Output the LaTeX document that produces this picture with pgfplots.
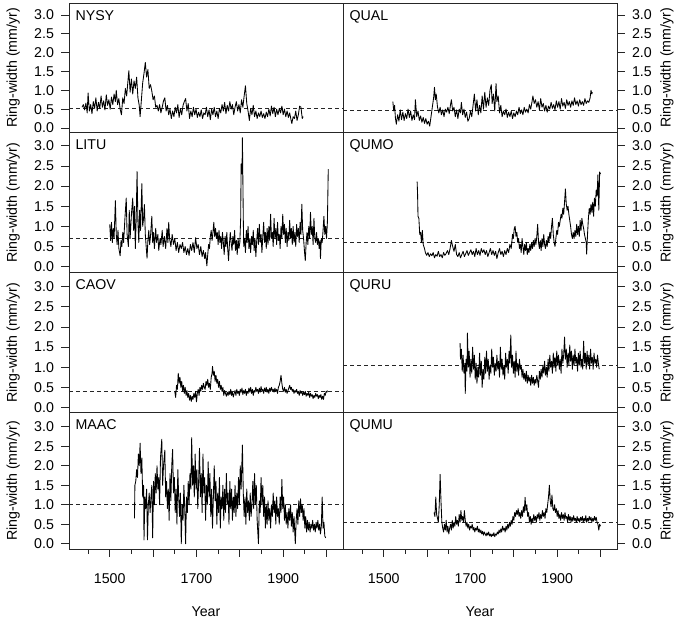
\documentclass[border=0pt]{standalone}
\usepackage{pgfplots}
\pgfplotsset{compat=1.18}
\usepackage{fontspec}
\setmainfont{Liberation Sans}
\newcommand\fs{\fontsize{14.2}{16}\selectfont}
\pgfplotsset{
  panel/.style={
    scale only axis, width=274pt,
    xmin=1406, xmax=2038,
    axis line style={black!85, line width=0.8pt},
    every tick/.style={black!85, line width=0.8pt},
    tick align=outside,
    major tick length=7.5pt, minor tick length=4.5pt,
    ytick={0,0.5,1,1.5,2,2.5,3},
    yticklabels={0.0,0.5,1.0,1.5,2.0,2.5,3.0},
    tick label style={font=\fs},
    ylabel={Ring-width (mm/yr)},
    xtick=\empty,
    anchor=north west,
  },
  leftp/.style={ytick pos=left, yticklabel pos=left,
    yticklabel style={xshift=-4pt},
    every axis y label/.style={at={(axis description cs:-0.204,0.5)}, rotate=90, anchor=center, font=\fs}},
  rightp/.style={ytick pos=right, yticklabel pos=right,
    yticklabel style={xshift=4pt},
    every axis y label/.style={at={(axis description cs:1.1825,0.5)}, rotate=90, anchor=center, font=\fs}},
  bottomp/.style={xtick={1500,1600,1700,1800,1900,2000}, xticklabels={1500,,1700,,1900,},
    minor xtick={1450,1550,1650,1750,1850,1950}, xtick pos=bottom,
    xticklabel style={yshift=-13pt}, xlabel={Year},
    every axis x label/.style={at={(axis description cs:0.5,-0.455)}, anchor=center, font=\fs}},
  row1/.style={height=129.2pt, ymin=-0.12, ymax=3.31},
  row2/.style={height=140.2pt, ymin=-0.15, ymax=3.33},
  row3/.style={height=140pt, ymin=-0.13, ymax=3.35},
  row4/.style={height=136.5pt, ymin=-0.14, ymax=3.36},
  ser/.style={black, line width=0.85pt, line join=round},
  mean/.style={black!85, line width=0.8pt, dash pattern=on 4pt off 3pt},
}
\newcommand\plab[1]{\node[anchor=base west, font=\fs, xshift=3pt, yshift=-17pt] at (rel axis cs:0,1) {#1};}
\begin{document}
\begin{tikzpicture}
\path[use as bounding box] (0,0) rectangle (680pt,620pt);
% ---------------- Row 1 ----------------
\begin{axis}[panel, leftp, row1, at={(69pt,616.7pt)}]
\addplot[mean] coordinates {(1406,0.53) (2038,0.53)};
\addplot[ser] coordinates {(1436,0.55)(1439,0.62)(1442,0.48)(1445,0.66)(1448,0.40)(1450,0.93)(1453,0.45)(1456,0.62)(1459,0.38)(1462,0.70)(1465,0.52)(1468,0.80)(1471,0.45)(1474,0.68)(1477,0.52)(1480,0.85)(1483,0.55)(1486,0.72)(1489,0.48)(1492,0.88)(1495,0.60)(1498,0.75)(1501,0.50)(1504,0.82)(1507,0.62)(1510,0.90)(1513,0.70)(1515,1.00)(1518,0.62)(1521,0.78)(1524,0.50)(1527,0.35)(1530,0.80)(1533,0.65)(1536,1.05)(1539,0.85)(1542,1.25)(1544,1.52)(1547,0.95)(1550,1.30)(1553,0.90)(1556,1.25)(1559,1.05)(1562,1.35)(1565,0.80)(1568,0.60)(1570,0.30)(1573,0.75)(1576,1.20)(1579,1.45)(1582,1.74)(1585,1.35)(1588,1.55)(1591,1.05)(1594,1.15)(1597,0.98)(1600,0.75)(1603,0.85)(1606,0.55)(1609,0.60)(1612,0.45)(1615,0.62)(1618,0.40)(1621,0.55)(1624,0.72)(1627,0.80)(1630,0.45)(1633,0.60)(1636,0.35)(1639,0.50)(1642,0.25)(1645,0.45)(1648,0.30)(1651,0.55)(1654,0.40)(1657,0.62)(1660,0.28)(1663,0.52)(1666,0.35)(1669,0.60)(1672,0.70)(1675,0.78)(1678,0.45)(1681,0.65)(1684,0.25)(1687,0.45)(1690,0.30)(1693,0.55)(1696,0.35)(1699,0.50)(1702,0.28)(1705,0.42)(1708,0.30)(1711,0.48)(1714,0.25)(1717,0.40)(1720,0.35)(1723,0.55)(1726,0.30)(1729,0.48)(1732,0.22)(1735,0.50)(1738,0.35)(1741,0.55)(1744,0.30)(1747,0.45)(1750,0.25)(1753,0.52)(1756,0.40)(1759,0.62)(1762,0.45)(1765,0.68)(1768,0.38)(1771,0.60)(1774,0.45)(1777,0.70)(1780,0.50)(1783,0.62)(1786,0.35)(1789,0.55)(1792,0.70)(1795,0.45)(1798,0.62)(1801,0.40)(1804,0.75)(1807,0.55)(1810,0.85)(1813,1.12)(1816,0.65)(1819,0.45)(1822,0.20)(1825,0.52)(1828,0.35)(1831,0.60)(1834,0.30)(1837,0.45)(1840,0.25)(1843,0.40)(1846,0.30)(1849,0.45)(1852,0.28)(1855,0.38)(1858,0.25)(1861,0.42)(1864,0.30)(1867,0.50)(1870,0.32)(1873,0.58)(1876,0.38)(1879,0.55)(1882,0.30)(1885,0.50)(1888,0.35)(1891,0.52)(1894,0.40)(1897,0.58)(1900,0.35)(1903,0.50)(1906,0.30)(1909,0.45)(1912,0.28)(1915,0.40)(1918,0.22)(1920,0.12)(1923,0.30)(1926,0.25)(1929,0.45)(1932,0.20)(1935,0.35)(1938,0.58)(1941,0.55)(1944,0.25)(1946,0.30)};
\plab{NYSY}
\end{axis}
\begin{axis}[panel, rightp, row1, at={(343pt,616.7pt)}]
\addplot[mean] coordinates {(1406,0.47) (2038,0.47)};
\addplot[ser] coordinates {(1521,0.70)(1523,0.45)(1525,0.60)(1527,0.25)(1529,0.10)(1532,0.35)(1535,0.18)(1538,0.48)(1541,0.22)(1544,0.42)(1547,0.20)(1550,0.38)(1553,0.25)(1556,0.50)(1559,0.28)(1562,0.45)(1565,0.20)(1568,0.35)(1571,0.22)(1573,0.75)(1576,0.30)(1579,0.45)(1582,0.20)(1585,0.32)(1588,0.15)(1591,0.28)(1594,0.12)(1597,0.25)(1600,0.10)(1603,0.18)(1606,0.05)(1609,0.30)(1612,0.55)(1615,0.80)(1617,1.08)(1619,0.75)(1621,0.90)(1624,0.55)(1627,0.40)(1630,0.55)(1633,0.35)(1636,0.48)(1639,0.30)(1642,0.50)(1645,0.42)(1648,0.55)(1651,0.38)(1654,0.62)(1656,0.75)(1659,0.45)(1662,0.55)(1665,0.30)(1668,0.48)(1671,0.25)(1674,0.50)(1677,0.40)(1679,0.68)(1682,0.35)(1685,0.50)(1688,0.28)(1691,0.42)(1694,0.18)(1697,0.25)(1700,0.45)(1703,0.30)(1706,0.60)(1709,0.90)(1712,0.45)(1715,0.75)(1718,0.35)(1721,0.60)(1724,0.40)(1727,0.85)(1730,0.50)(1733,0.95)(1736,0.55)(1739,0.80)(1742,0.60)(1745,1.00)(1748,1.15)(1750,0.65)(1753,0.90)(1756,0.45)(1759,1.18)(1761,0.70)(1764,0.85)(1767,0.40)(1770,0.60)(1773,0.30)(1776,0.45)(1779,0.35)(1782,0.50)(1785,0.28)(1788,0.42)(1791,0.30)(1794,0.45)(1797,0.25)(1800,0.40)(1803,0.30)(1806,0.45)(1809,0.35)(1812,0.55)(1815,0.38)(1818,0.48)(1821,0.35)(1824,0.55)(1827,0.42)(1830,0.50)(1833,0.40)(1836,0.62)(1839,0.50)(1842,0.70)(1844,0.85)(1847,0.65)(1850,0.75)(1853,0.55)(1856,0.70)(1859,0.48)(1862,0.78)(1865,0.55)(1868,0.65)(1871,0.45)(1874,0.60)(1877,0.42)(1880,0.58)(1883,0.50)(1886,0.68)(1889,0.52)(1892,0.62)(1895,0.48)(1898,0.72)(1901,0.55)(1904,0.70)(1907,0.50)(1910,0.78)(1913,0.58)(1916,0.68)(1919,0.52)(1922,0.75)(1925,0.60)(1928,0.70)(1931,0.55)(1934,0.72)(1937,0.60)(1940,0.80)(1943,0.62)(1946,0.72)(1949,0.58)(1952,0.75)(1955,0.62)(1958,0.70)(1961,0.60)(1964,0.78)(1967,0.65)(1970,0.72)(1973,0.68)(1976,0.80)(1978,1.00)(1980,0.90)(1981,0.95)};
\plab{QUAL}
\end{axis}
% ---------------- Row 2 ----------------
\begin{axis}[panel, leftp, row2, at={(69pt,487.5pt)}]
\addplot[mean] coordinates {(1406,0.70) (2038,0.70)};
\addplot[ser] coordinates {(1500,1.05)(1502,0.65)(1504,1.10)(1506,0.60)(1508,0.95)(1510,0.70)(1513,1.64)(1515,0.80)(1517,0.55)(1519,0.90)(1521,0.45)(1524,0.27)(1526,0.65)(1528,0.50)(1530,0.85)(1532,0.60)(1535,1.20)(1538,1.70)(1540,0.80)(1543,0.50)(1545,1.40)(1547,0.70)(1550,1.30)(1553,1.70)(1555,0.90)(1557,1.50)(1559,0.45)(1561,1.20)(1563,2.36)(1565,1.10)(1567,0.60)(1569,1.40)(1571,0.90)(1574,2.06)(1576,1.00)(1578,1.20)(1580,1.54)(1582,0.80)(1584,0.50)(1586,0.21)(1588,0.65)(1590,0.90)(1592,0.55)(1594,0.75)(1597,1.25)(1599,0.60)(1601,0.85)(1603,0.45)(1606,0.95)(1608,0.60)(1611,0.80)(1613,0.40)(1616,0.70)(1618,0.55)(1621,0.90)(1623,0.50)(1626,0.75)(1629,0.45)(1632,0.95)(1634,0.60)(1636,1.10)(1638,0.70)(1641,0.50)(1644,0.80)(1647,0.55)(1650,0.70)(1653,0.40)(1656,0.60)(1659,0.35)(1662,0.55)(1665,0.45)(1668,0.60)(1671,0.35)(1674,0.50)(1677,0.30)(1680,0.45)(1683,0.28)(1686,0.55)(1689,0.40)(1692,0.60)(1695,0.35)(1698,0.72)(1701,0.45)(1704,0.55)(1707,0.30)(1710,0.50)(1713,0.25)(1716,0.40)(1719,0.20)(1721,0.35)(1724,0.02)(1726,0.30)(1728,0.55)(1730,0.45)(1732,0.75)(1734,0.90)(1736,0.65)(1738,0.85)(1740,1.10)(1742,0.75)(1744,0.95)(1746,0.70)(1748,0.85)(1750,0.55)(1752,0.90)(1754,0.60)(1756,0.75)(1758,0.45)(1760,0.85)(1762,0.60)(1764,0.30)(1766,0.75)(1768,0.50)(1770,0.85)(1772,0.45)(1774,0.15)(1776,0.55)(1778,0.85)(1780,0.60)(1782,0.40)(1784,0.75)(1786,0.55)(1788,0.90)(1790,0.40)(1792,0.65)(1794,0.30)(1796,0.70)(1798,0.45)(1800,0.60)(1802,1.20)(1803,2.55)(1805,2.30)(1806,3.20)(1808,1.20)(1809,0.50)(1811,0.70)(1813,0.35)(1815,0.90)(1817,0.60)(1819,1.00)(1821,0.45)(1823,0.70)(1825,0.35)(1827,0.75)(1829,0.55)(1831,0.90)(1833,0.40)(1835,0.70)(1837,0.25)(1839,0.65)(1841,0.95)(1843,0.55)(1845,1.05)(1847,0.60)(1849,0.80)(1851,0.35)(1853,0.75)(1855,1.10)(1857,0.60)(1859,0.85)(1861,0.45)(1863,0.95)(1865,0.55)(1867,1.00)(1869,0.65)(1871,1.30)(1873,0.70)(1875,0.85)(1877,0.50)(1879,1.20)(1881,0.70)(1883,0.95)(1885,0.55)(1887,1.10)(1889,0.65)(1891,0.80)(1893,0.45)(1895,1.00)(1897,0.70)(1899,1.30)(1901,0.80)(1903,1.05)(1905,0.60)(1907,0.95)(1909,0.50)(1911,0.85)(1913,0.65)(1915,1.15)(1917,0.70)(1919,0.95)(1921,0.55)(1923,1.00)(1925,0.60)(1927,0.85)(1929,0.50)(1931,1.05)(1933,0.75)(1935,0.95)(1937,0.60)(1939,1.10)(1941,0.80)(1943,1.55)(1945,0.90)(1947,0.70)(1949,0.40)(1951,0.15)(1953,0.60)(1955,0.85)(1957,0.55)(1959,1.00)(1961,0.70)(1963,1.35)(1965,0.80)(1967,1.00)(1969,0.55)(1971,1.20)(1973,0.70)(1975,0.60)(1977,0.85)(1979,0.55)(1981,0.70)(1983,0.45)(1985,0.65)(1986,0.20)(1988,0.70)(1990,0.60)(1992,0.90)(1994,1.25)(1996,0.80)(1998,1.00)(2000,0.70)(2002,1.10)(2004,2.42)};
\plab{LITU}
\end{axis}
\begin{axis}[panel, rightp, row2, at={(343pt,487.5pt)}]
\addplot[mean] coordinates {(1406,0.59) (2038,0.59)};
\addplot[ser] coordinates {(1577,2.11)(1578,1.80)(1579,1.25)(1581,1.20)(1583,0.80)(1585,0.85)(1587,0.60)(1589,0.90)(1591,0.55)(1594,0.45)(1596,0.35)(1599,0.28)(1602,0.35)(1605,0.25)(1608,0.32)(1611,0.27)(1614,0.35)(1617,0.22)(1620,0.30)(1623,0.26)(1626,0.38)(1629,0.25)(1632,0.30)(1635,0.22)(1638,0.35)(1641,0.28)(1644,0.33)(1647,0.40)(1650,0.30)(1653,0.45)(1656,0.65)(1659,0.50)(1662,0.38)(1665,0.55)(1668,0.30)(1671,0.25)(1674,0.35)(1677,0.22)(1680,0.30)(1683,0.38)(1686,0.25)(1689,0.32)(1692,0.40)(1695,0.28)(1698,0.35)(1701,0.42)(1704,0.30)(1707,0.38)(1710,0.25)(1713,0.45)(1716,0.30)(1719,0.40)(1722,0.28)(1725,0.45)(1728,0.35)(1731,0.42)(1734,0.30)(1737,0.40)(1740,0.25)(1743,0.35)(1746,0.45)(1749,0.30)(1752,0.40)(1755,0.28)(1758,0.38)(1761,0.20)(1764,0.35)(1767,0.45)(1770,0.30)(1773,0.38)(1776,0.25)(1779,0.40)(1782,0.30)(1785,0.45)(1788,0.35)(1791,0.55)(1794,0.45)(1797,0.80)(1799,0.70)(1801,0.95)(1803,1.00)(1805,0.75)(1807,0.85)(1809,0.60)(1811,0.70)(1813,0.45)(1815,0.55)(1817,0.35)(1819,0.70)(1821,0.50)(1823,0.30)(1825,0.55)(1827,0.40)(1829,0.60)(1831,0.30)(1833,0.45)(1835,0.35)(1837,0.55)(1839,0.40)(1841,0.60)(1843,0.45)(1845,0.65)(1847,0.50)(1849,0.70)(1851,0.55)(1853,0.75)(1855,1.05)(1857,0.60)(1859,0.45)(1861,0.65)(1863,0.40)(1865,0.70)(1867,0.50)(1869,0.80)(1871,0.55)(1873,0.45)(1875,0.65)(1877,0.50)(1879,0.75)(1881,0.60)(1883,0.85)(1885,0.70)(1887,1.00)(1889,1.20)(1891,0.80)(1893,0.60)(1895,0.50)(1897,0.70)(1899,0.90)(1901,0.80)(1903,1.10)(1905,1.00)(1907,1.15)(1909,1.30)(1911,1.20)(1913,1.45)(1915,1.30)(1917,1.60)(1919,1.93)(1921,1.55)(1923,1.40)(1925,1.50)(1927,1.30)(1929,1.15)(1931,1.00)(1933,0.80)(1935,0.70)(1937,0.85)(1939,0.70)(1941,0.90)(1943,0.75)(1945,1.05)(1947,0.80)(1949,1.00)(1951,0.75)(1953,1.15)(1955,0.90)(1957,1.20)(1959,1.05)(1961,0.95)(1963,0.80)(1965,0.70)(1967,0.60)(1968,0.31)(1970,0.80)(1972,1.20)(1974,1.45)(1976,1.30)(1978,1.55)(1980,1.35)(1982,1.60)(1984,1.25)(1986,1.70)(1988,1.50)(1990,1.90)(1992,1.75)(1994,2.28)(1996,1.40)(1998,2.35)(2000,2.30)};
\plab{QUMO}
\end{axis}
% ---------------- Row 3 ----------------
\begin{axis}[panel, leftp, row3, at={(69pt,347.3pt)}]
\addplot[mean] coordinates {(1406,0.41) (2038,0.41)};
\addplot[ser] coordinates {(1650,0.40)(1652,0.25)(1654,0.55)(1656,0.45)(1658,0.85)(1660,0.60)(1662,0.75)(1664,0.50)(1666,0.65)(1668,0.40)(1670,0.55)(1672,0.35)(1674,0.50)(1676,0.30)(1678,0.42)(1680,0.25)(1682,0.35)(1684,0.18)(1686,0.30)(1688,0.15)(1690,0.28)(1692,0.20)(1694,0.35)(1696,0.25)(1698,0.40)(1700,0.14)(1702,0.35)(1704,0.45)(1706,0.30)(1708,0.50)(1710,0.40)(1712,0.55)(1714,0.45)(1716,0.60)(1718,0.50)(1720,0.45)(1722,0.65)(1724,0.55)(1726,0.70)(1728,0.50)(1730,0.60)(1732,0.45)(1734,0.75)(1736,0.85)(1737,1.02)(1739,0.80)(1741,0.90)(1743,0.65)(1745,0.80)(1747,0.60)(1749,0.70)(1751,0.50)(1753,0.65)(1755,0.45)(1757,0.55)(1759,0.40)(1761,0.50)(1763,0.30)(1765,0.42)(1767,0.35)(1769,0.28)(1771,0.38)(1773,0.30)(1775,0.40)(1777,0.32)(1779,0.45)(1781,0.30)(1783,0.38)(1785,0.26)(1787,0.35)(1789,0.42)(1791,0.30)(1793,0.45)(1795,0.35)(1797,0.40)(1799,0.30)(1801,0.45)(1803,0.38)(1805,0.48)(1807,0.32)(1809,0.42)(1811,0.35)(1813,0.45)(1815,0.30)(1817,0.40)(1819,0.35)(1821,0.48)(1823,0.38)(1825,0.50)(1827,0.35)(1829,0.45)(1831,0.30)(1833,0.42)(1835,0.38)(1837,0.50)(1839,0.40)(1841,0.45)(1843,0.35)(1845,0.48)(1847,0.38)(1849,0.52)(1851,0.40)(1853,0.45)(1855,0.35)(1857,0.48)(1859,0.40)(1861,0.50)(1863,0.38)(1865,0.45)(1867,0.35)(1869,0.48)(1871,0.40)(1873,0.50)(1875,0.42)(1877,0.45)(1879,0.38)(1881,0.48)(1883,0.40)(1885,0.45)(1887,0.35)(1889,0.50)(1891,0.55)(1893,0.65)(1895,0.80)(1897,0.60)(1899,0.45)(1901,0.40)(1903,0.50)(1905,0.38)(1907,0.45)(1909,0.35)(1911,0.42)(1913,0.48)(1915,0.55)(1917,0.45)(1919,0.50)(1921,0.40)(1923,0.45)(1925,0.35)(1927,0.42)(1929,0.38)(1931,0.45)(1933,0.35)(1935,0.40)(1937,0.30)(1939,0.42)(1941,0.35)(1943,0.40)(1945,0.30)(1947,0.38)(1949,0.32)(1951,0.40)(1953,0.28)(1955,0.35)(1957,0.30)(1959,0.38)(1961,0.25)(1963,0.35)(1965,0.28)(1967,0.32)(1969,0.22)(1971,0.30)(1973,0.25)(1975,0.35)(1977,0.28)(1979,0.32)(1981,0.22)(1983,0.30)(1985,0.25)(1987,0.32)(1989,0.20)(1991,0.28)(1993,0.20)(1995,0.35)(1997,0.30)(1999,0.40)(2001,0.38)(2002,0.42)};
\plab{CAOV}
\end{axis}
\begin{axis}[panel, rightp, row3, at={(343pt,347.3pt)}]
\addplot[mean] coordinates {(1406,1.05) (2038,1.05)};
\addplot[ser] coordinates {(1676,1.60)(1677,1.20)(1679,1.45)(1681,0.90)(1683,1.30)(1685,0.85)(1687,1.10)(1688,0.35)(1690,1.20)(1692,0.90)(1693,1.85)(1695,1.00)(1697,1.40)(1699,0.75)(1701,1.20)(1703,0.85)(1705,1.50)(1707,0.95)(1709,1.30)(1711,0.70)(1713,1.10)(1715,0.60)(1717,1.00)(1719,0.75)(1721,1.35)(1723,0.80)(1725,1.15)(1727,0.50)(1729,0.95)(1731,0.70)(1733,1.25)(1735,0.85)(1737,1.40)(1739,0.90)(1741,1.20)(1743,0.70)(1745,1.05)(1747,0.85)(1749,1.45)(1751,1.00)(1753,1.25)(1755,0.80)(1757,1.10)(1759,0.90)(1761,1.30)(1763,0.95)(1765,1.15)(1767,0.75)(1769,1.50)(1771,0.95)(1773,1.20)(1775,0.80)(1777,1.05)(1779,0.70)(1781,1.35)(1783,1.00)(1785,1.20)(1787,0.85)(1789,1.40)(1791,1.10)(1793,1.80)(1795,1.00)(1797,1.30)(1799,0.85)(1801,1.15)(1803,0.75)(1805,1.40)(1807,0.90)(1809,1.10)(1811,0.80)(1813,1.20)(1815,0.95)(1817,1.05)(1819,0.75)(1821,0.95)(1823,0.70)(1825,0.85)(1827,0.65)(1829,0.90)(1831,0.60)(1833,0.80)(1835,0.65)(1837,0.75)(1839,0.55)(1841,0.80)(1843,0.60)(1845,0.75)(1847,0.55)(1849,0.70)(1851,0.60)(1853,0.80)(1855,0.65)(1857,0.50)(1859,0.90)(1861,0.70)(1863,0.95)(1865,0.75)(1867,1.05)(1869,0.85)(1871,1.15)(1873,0.80)(1875,1.00)(1877,0.75)(1879,1.20)(1881,0.90)(1883,1.30)(1885,1.00)(1887,1.15)(1889,0.85)(1891,1.35)(1893,1.00)(1895,1.25)(1897,0.90)(1899,1.40)(1901,1.05)(1903,1.30)(1905,0.95)(1907,1.20)(1909,0.85)(1911,1.45)(1913,1.10)(1915,1.30)(1917,1.75)(1919,1.20)(1921,1.45)(1923,1.00)(1925,1.35)(1927,1.05)(1929,1.55)(1931,1.15)(1933,1.40)(1935,0.95)(1937,1.30)(1939,1.05)(1941,1.45)(1943,1.10)(1945,1.25)(1947,0.90)(1949,1.35)(1951,1.05)(1953,1.40)(1955,1.00)(1957,1.20)(1959,0.95)(1961,1.65)(1963,1.10)(1965,1.35)(1967,0.95)(1969,1.40)(1971,1.05)(1973,1.30)(1975,0.95)(1977,1.45)(1979,1.10)(1981,1.25)(1983,0.95)(1985,1.35)(1987,1.10)(1989,1.20)(1991,1.00)(1993,1.30)(1995,1.10)(1997,0.95)};
\plab{QURU}
\end{axis}
% ---------------- Row 4 ----------------
\begin{axis}[panel, leftp, row4, bottomp, at={(69pt,207.3pt)}]
\addplot[mean] coordinates {(1406,1.0) (2038,1.0)};
\addplot[ser] coordinates {(1557,0.65)(1558,1.50)(1560,1.60)(1562,1.90)(1564,1.70)(1566,2.30)(1568,2.00)(1570,2.58)(1572,1.80)(1574,2.20)(1576,1.20)(1578,1.50)(1579,0.10)(1581,1.20)(1583,0.90)(1585,1.40)(1587,0.10)(1589,1.00)(1591,1.30)(1593,0.80)(1595,1.20)(1597,1.50)(1599,0.15)(1601,1.60)(1603,1.00)(1605,1.80)(1607,1.30)(1609,2.00)(1611,1.40)(1613,1.70)(1615,1.00)(1617,2.20)(1620,2.68)(1622,1.50)(1624,2.00)(1627,2.40)(1629,1.20)(1631,1.60)(1633,0.90)(1635,1.40)(1637,0.60)(1639,1.80)(1641,1.10)(1643,2.00)(1645,2.42)(1647,1.30)(1649,1.70)(1651,0.80)(1653,1.40)(1655,0.50)(1657,1.90)(1659,1.20)(1661,0.70)(1663,1.30)(1665,0.00)(1667,1.00)(1669,0.60)(1671,1.50)(1673,0.90)(1675,0.00)(1677,1.20)(1679,0.80)(1681,1.60)(1683,1.00)(1685,1.80)(1687,1.40)(1689,2.72)(1691,1.50)(1693,2.00)(1695,1.20)(1697,2.30)(1699,1.40)(1701,1.90)(1703,0.90)(1705,1.60)(1707,2.45)(1709,1.20)(1711,1.80)(1713,0.80)(1715,2.30)(1717,1.30)(1719,1.70)(1721,0.60)(1723,1.50)(1725,1.00)(1727,2.10)(1729,1.20)(1731,1.80)(1733,0.70)(1735,1.40)(1737,0.40)(1739,1.20)(1741,2.00)(1743,1.10)(1745,1.60)(1747,0.50)(1749,1.30)(1751,0.80)(1753,1.70)(1755,0.40)(1757,1.20)(1759,0.90)(1761,1.50)(1763,0.60)(1765,1.40)(1767,0.80)(1769,1.80)(1771,1.00)(1773,1.30)(1775,0.50)(1777,1.60)(1779,0.90)(1781,1.40)(1783,0.60)(1785,1.20)(1787,0.80)(1789,1.50)(1791,0.70)(1793,1.30)(1795,0.90)(1797,1.70)(1799,1.00)(1801,2.00)(1803,1.40)(1806,2.53)(1808,1.30)(1810,0.70)(1812,1.20)(1814,0.50)(1816,1.40)(1818,0.80)(1820,1.10)(1822,0.60)(1824,1.30)(1826,0.70)(1828,1.00)(1830,1.60)(1832,0.90)(1834,1.80)(1836,1.00)(1838,1.50)(1840,0.60)(1843,0.00)(1845,1.10)(1847,0.80)(1849,1.70)(1851,1.00)(1853,1.50)(1855,0.70)(1857,1.20)(1859,0.40)(1861,1.00)(1863,0.50)(1865,1.10)(1867,0.60)(1869,0.90)(1871,0.40)(1873,1.00)(1875,0.70)(1877,1.30)(1879,0.80)(1881,1.10)(1883,0.50)(1885,1.20)(1887,0.70)(1889,0.90)(1891,0.50)(1893,1.20)(1895,0.80)(1897,1.65)(1899,0.90)(1901,1.20)(1903,0.60)(1905,1.00)(1907,0.50)(1909,0.80)(1911,0.40)(1913,0.90)(1915,0.60)(1917,1.00)(1919,0.45)(1921,0.80)(1923,0.30)(1925,0.70)(1928,0.00)(1930,0.60)(1932,0.90)(1934,0.50)(1936,1.10)(1938,0.70)(1940,1.15)(1942,0.80)(1944,1.00)(1946,0.60)(1948,0.90)(1950,0.40)(1952,0.70)(1954,0.30)(1956,0.60)(1958,0.35)(1960,0.55)(1962,0.30)(1964,0.50)(1966,0.40)(1968,0.60)(1970,0.35)(1972,0.50)(1974,0.30)(1976,0.55)(1978,0.40)(1980,0.60)(1982,0.35)(1984,0.50)(1986,0.25)(1988,0.45)(1990,1.20)(1992,0.40)(1994,0.55)(1996,0.20)(1998,0.15)};
\plab{MAAC}
\end{axis}
\begin{axis}[panel, rightp, row4, bottomp, at={(343pt,207.3pt)}]
\addplot[mean] coordinates {(1406,0.55) (2038,0.55)};
\addplot[ser] coordinates {(1616,0.80)(1618,0.70)(1620,1.20)(1622,0.75)(1624,0.65)(1626,0.55)(1628,1.00)(1630,1.78)(1632,1.10)(1634,0.55)(1636,0.40)(1638,0.30)(1640,0.50)(1642,0.35)(1644,0.60)(1646,0.30)(1648,0.45)(1650,0.25)(1652,0.40)(1654,0.50)(1656,0.35)(1658,0.60)(1660,0.40)(1662,0.55)(1664,0.45)(1666,0.70)(1668,0.50)(1670,0.60)(1672,0.45)(1674,0.75)(1676,0.55)(1678,0.85)(1680,0.60)(1682,0.70)(1684,0.55)(1686,0.85)(1688,0.60)(1690,0.45)(1692,0.55)(1694,0.40)(1696,0.50)(1698,0.35)(1700,0.45)(1702,0.40)(1704,0.50)(1706,0.35)(1708,0.42)(1710,0.30)(1712,0.40)(1714,0.35)(1716,0.45)(1718,0.30)(1720,0.38)(1722,0.28)(1724,0.35)(1726,0.25)(1728,0.32)(1730,0.22)(1732,0.30)(1734,0.25)(1736,0.20)(1738,0.28)(1740,0.22)(1742,0.30)(1744,0.20)(1746,0.25)(1748,0.18)(1750,0.25)(1752,0.20)(1754,0.28)(1756,0.18)(1758,0.25)(1760,0.22)(1762,0.30)(1764,0.25)(1766,0.35)(1768,0.28)(1770,0.38)(1772,0.30)(1774,0.45)(1776,0.35)(1778,0.40)(1780,0.30)(1782,0.45)(1784,0.35)(1786,0.50)(1788,0.40)(1790,0.55)(1792,0.45)(1794,0.60)(1796,0.50)(1798,0.70)(1800,0.60)(1802,0.80)(1804,0.70)(1806,0.85)(1808,0.75)(1810,0.90)(1812,0.70)(1814,0.80)(1816,0.65)(1818,0.85)(1820,0.70)(1822,0.95)(1824,0.80)(1826,1.19)(1828,0.85)(1830,1.00)(1832,0.70)(1834,0.80)(1836,0.55)(1838,0.70)(1840,0.50)(1842,0.65)(1844,0.55)(1846,0.75)(1848,0.60)(1850,0.70)(1852,0.55)(1854,0.75)(1856,0.65)(1858,0.80)(1860,0.60)(1862,0.75)(1864,0.65)(1866,0.85)(1868,0.70)(1870,0.80)(1872,0.65)(1874,0.90)(1876,0.80)(1878,1.00)(1880,1.20)(1882,1.50)(1884,1.10)(1886,0.95)(1888,1.25)(1890,0.90)(1892,0.85)(1894,1.00)(1896,0.80)(1898,0.90)(1900,0.70)(1902,0.85)(1904,0.65)(1906,0.75)(1908,0.60)(1910,0.80)(1912,0.65)(1914,0.75)(1916,0.60)(1918,0.80)(1920,0.65)(1922,0.70)(1924,0.55)(1926,0.75)(1928,0.60)(1930,0.70)(1932,0.55)(1934,0.68)(1936,0.58)(1938,0.72)(1940,0.60)(1942,0.65)(1944,0.55)(1946,0.70)(1948,0.58)(1950,0.65)(1952,0.55)(1954,0.68)(1956,0.60)(1958,0.70)(1960,0.55)(1962,0.65)(1964,0.58)(1966,0.72)(1968,0.55)(1970,0.65)(1972,0.58)(1974,0.70)(1976,0.60)(1978,0.68)(1980,0.55)(1982,0.65)(1984,0.58)(1986,0.70)(1988,0.60)(1990,0.68)(1992,0.55)(1994,0.50)(1996,0.35)(1998,0.50)(2000,0.45)};
\plab{QUMU}
\end{axis}
\end{tikzpicture}
\end{document}
